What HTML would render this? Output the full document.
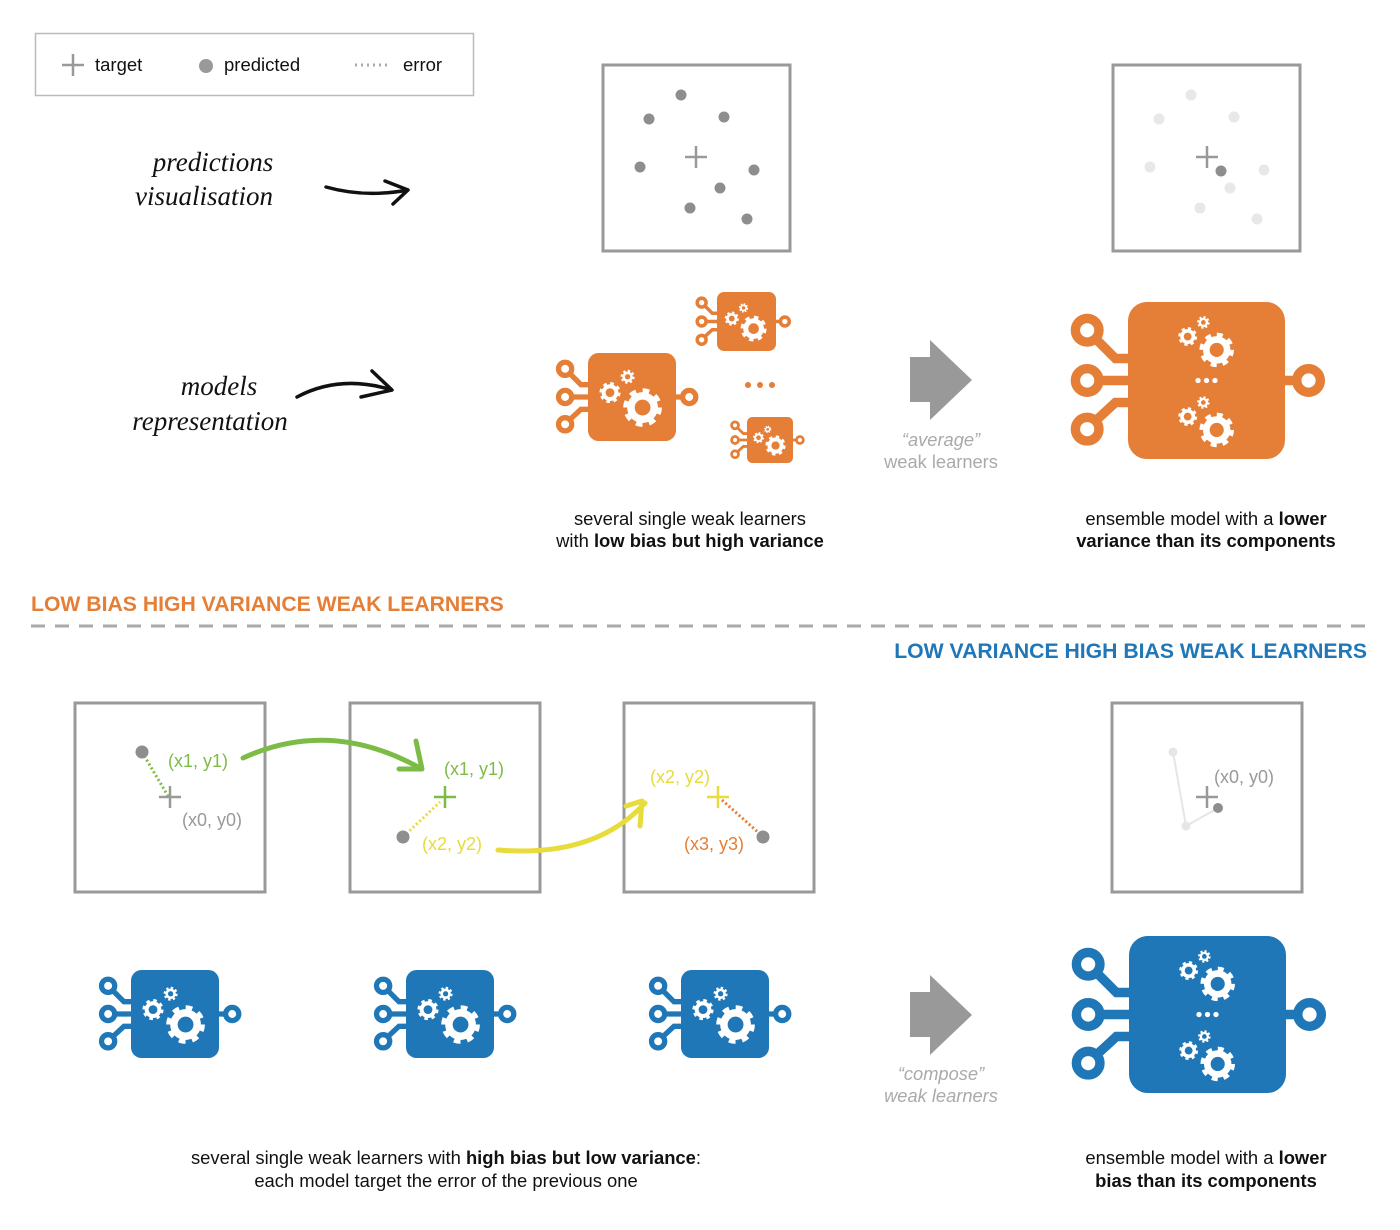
<!DOCTYPE html>
<html><head><meta charset="utf-8"><style>
html,body{margin:0;padding:0;background:#fff;}
svg{display:block;}
text{font-family:"Liberation Sans",sans-serif;}
.hw{font-family:"Liberation Serif",serif;font-style:italic;font-size:27px;fill:#111;}
.cap{font-size:18.4px;fill:#111;text-anchor:middle;}
.lbl{font-size:18px;}
</style></head><body>
<svg width="1400" height="1230" viewBox="0 0 1400 1230" xmlns="http://www.w3.org/2000/svg">
<defs>
  <g id="gears">
    <circle cx="25" cy="45" r="10" fill="none" stroke="#fff" stroke-width="4" stroke-dasharray="3.9 3.95"/>
    <circle cx="25" cy="45" r="9.5" fill="#fff"/>
    <circle cx="25" cy="45" r="5" fill="currentColor"/>
    <circle cx="45" cy="27" r="6.5" fill="none" stroke="#fff" stroke-width="3" stroke-dasharray="2.55 2.55"/>
    <circle cx="45" cy="27" r="6" fill="#fff"/>
    <circle cx="45" cy="27" r="3" fill="currentColor"/>
    <circle cx="62" cy="62" r="19" fill="none" stroke="#fff" stroke-width="6" stroke-dasharray="7.46 7.46"/>
    <circle cx="62" cy="62" r="17.5" fill="#fff"/>
    <circle cx="62" cy="62" r="9" fill="currentColor"/>
  </g>
  <g id="pins">
    <g fill="none" stroke="currentColor" stroke-width="6">
      <path d="M-21,23 L-8,36 L2,36"/>
      <path d="M-18,50 L2,50"/>
      <path d="M-21,76 L-8,64 L2,64"/>
      <path d="M98,50 L108,50"/>
      <circle cx="-26" cy="18" r="7.5" fill="#fff"/>
      <circle cx="-26" cy="50" r="7.5" fill="#fff"/>
      <circle cx="-26" cy="81" r="7.5" fill="#fff"/>
      <circle cx="115" cy="50" r="7.5" fill="#fff"/>
    </g>
    <rect x="0" y="0" width="100" height="100" rx="12" fill="currentColor"/>
  </g>
  <g id="chip">
    <use href="#pins"/>
    <use href="#gears"/>
  </g>
  <g id="ens">
    <use href="#pins"/>
    <use href="#gears" transform="translate(25.5,-0.5) scale(0.5)"/>
    <use href="#gears" transform="translate(25.5,50.5) scale(0.5)"/>
    <circle cx="44.6" cy="50" r="1.7" fill="#fff"/><circle cx="50" cy="50" r="1.7" fill="#fff"/><circle cx="55.4" cy="50" r="1.7" fill="#fff"/>
  </g>
</defs>

<!-- legend -->
<rect x="35.5" y="33.5" width="438" height="62" fill="#fff" stroke="#bbb" stroke-width="1.5"/>
<path d="M62,65 H84 M73,54 V76" stroke="#999" stroke-width="2.5"/>
<text x="95" y="71" font-size="18.5" fill="#111">target</text>
<circle cx="206" cy="66" r="7" fill="#999"/>
<text x="224" y="71" font-size="18.5" fill="#111">predicted</text>
<path d="M355,65 H390" stroke="#aaa" stroke-width="3" stroke-dasharray="2 4"/>
<text x="403" y="71" font-size="18.5" fill="#111">error</text>

<!-- handwriting -->
<text class="hw" x="213" y="171" text-anchor="middle">predictions</text>
<text class="hw" x="204" y="205" text-anchor="middle">visualisation</text>
<path d="M326,187 Q365,198 408,190 M385,181 L408,190 L393,204" fill="none" stroke="#111" stroke-width="3.5" stroke-linecap="round" stroke-linejoin="round"/>
<text class="hw" x="219" y="395" text-anchor="middle">models</text>
<text class="hw" x="210" y="430" text-anchor="middle">representation</text>
<path d="M297,397 Q340,374 392,390 M372,371 L392,390 L361,397" fill="none" stroke="#111" stroke-width="3.5" stroke-linecap="round" stroke-linejoin="round"/>

<!-- top plots -->
<rect x="603" y="65" width="187" height="186" fill="none" stroke="#999" stroke-width="3"/>
<path d="M685,157 H707 M696,146 V168" stroke="#999" stroke-width="2.5"/>
<g fill="#8e8e8e">
<circle cx="681" cy="95" r="5.5"/><circle cx="649" cy="119" r="5.5"/><circle cx="724" cy="117" r="5.5"/>
<circle cx="640" cy="167" r="5.5"/><circle cx="754" cy="170" r="5.5"/><circle cx="720" cy="188" r="5.5"/>
<circle cx="690" cy="208" r="5.5"/><circle cx="747" cy="219" r="5.5"/>
</g>
<rect x="1113" y="65" width="187" height="186" fill="none" stroke="#999" stroke-width="3"/>
<g fill="#e8e8e8">
<circle cx="1191" cy="95" r="5.5"/><circle cx="1159" cy="119" r="5.5"/><circle cx="1234" cy="117" r="5.5"/>
<circle cx="1150" cy="167" r="5.5"/><circle cx="1264" cy="170" r="5.5"/><circle cx="1230" cy="188" r="5.5"/>
<circle cx="1200" cy="208" r="5.5"/><circle cx="1257" cy="219" r="5.5"/>
</g>
<path d="M1196,157 H1218 M1207,146 V168" stroke="#999" stroke-width="2.5"/>
<circle cx="1221" cy="171" r="5.5" fill="#8e8e8e"/>

<!-- orange chips -->
<g color="#E57E36">
<use href="#chip" transform="translate(588,353) scale(0.88)"/>
<use href="#chip" transform="translate(717,292) scale(0.59)"/>
<use href="#chip" transform="translate(747,417) scale(0.46)"/>
<circle cx="748" cy="385" r="3" fill="#E57E36"/><circle cx="760" cy="385" r="3" fill="#E57E36"/><circle cx="772" cy="385" r="3" fill="#E57E36"/>
<use href="#ens" transform="translate(1128,302) scale(1.57)"/>
</g>

<polygon points="910,357 930,357 930,340 972,380 930,420 930,402 910,402" fill="#999"/>
<text x="941" y="446" font-size="18.3" fill="#aaa" text-anchor="middle" font-style="italic">“average”</text>
<text x="941" y="468" font-size="18.3" fill="#aaa" text-anchor="middle">weak learners</text>

<text class="cap" x="690" y="525">several single weak learners</text>
<text class="cap" x="690" y="547">with <tspan font-weight="bold">low bias but high variance</tspan></text>
<text class="cap" x="1206" y="525">ensemble model with a <tspan font-weight="bold">lower</tspan></text>
<text class="cap" x="1206" y="547" font-weight="bold">variance than its components</text>

<text x="31" y="611" font-size="21.2" font-weight="bold" fill="#E57E36">LOW BIAS HIGH VARIANCE WEAK LEARNERS</text>
<path d="M31,626 H1368" stroke="#aaa" stroke-width="3" stroke-dasharray="14 10"/>
<text x="1367" y="658" font-size="21.2" font-weight="bold" fill="#1F77B8" text-anchor="end">LOW VARIANCE HIGH BIAS WEAK LEARNERS</text>

<!-- bottom plots -->
<g fill="none" stroke="#999" stroke-width="3">
<rect x="75" y="703" width="190" height="189"/>
<rect x="350" y="703" width="190" height="189"/>
<rect x="624" y="703" width="190" height="189"/>
<rect x="1112" y="703" width="190" height="189"/>
</g>
<!-- box1 -->
<path d="M142,752 L168,796" stroke="#7DBB47" stroke-width="3" stroke-dasharray="2 2.5"/>
<path d="M159,797 H181 M170,786 V808" stroke="#999" stroke-width="2.5"/>
<circle cx="142" cy="752" r="6.5" fill="#8e8e8e"/>
<text class="lbl" x="168" y="767" fill="#7DBB47">(x1, y1)</text>
<text class="lbl" x="182" y="826" fill="#999">(x0, y0)</text>
<!-- box2 -->
<path d="M403,837 L440,802" stroke="#E8DB3C" stroke-width="3" stroke-dasharray="2 2.5"/>
<path d="M434,797 H456 M445,786 V808" stroke="#7DBB47" stroke-width="2.5"/>
<circle cx="403" cy="837" r="6.5" fill="#8e8e8e"/>
<text class="lbl" x="444" y="775" fill="#7DBB47">(x1, y1)</text>
<text class="lbl" x="422" y="850" fill="#E8DB3C">(x2, y2)</text>
<!-- box3 -->
<path d="M722,800 L760,834" stroke="#E57E36" stroke-width="3" stroke-dasharray="2 2.5"/>
<path d="M707,797 H729 M718,786 V808" stroke="#E8DB3C" stroke-width="2.5"/>
<circle cx="763" cy="837" r="6.5" fill="#8e8e8e"/>
<text class="lbl" x="650" y="783" fill="#E8DB3C">(x2, y2)</text>
<text class="lbl" x="684" y="850" fill="#E57E36">(x3, y3)</text>
<!-- box4 -->
<path d="M1173,752 L1186,826 L1218,808" fill="none" stroke="#e6e6e6" stroke-width="2"/>
<circle cx="1173" cy="752" r="4.5" fill="#e6e6e6"/><circle cx="1186" cy="826" r="4.5" fill="#e6e6e6"/>
<path d="M1196,797 H1218 M1207,786 V808" stroke="#999" stroke-width="2.5"/>
<circle cx="1218" cy="808" r="5" fill="#8e8e8e"/>
<text class="lbl" x="1214" y="783" fill="#999">(x0, y0)</text>

<!-- curved arrows -->
<path d="M243,758 Q330,718 420,768" fill="none" stroke="#7DBB47" stroke-width="5" stroke-linecap="round"/>
<path d="M416,741 L422,769 L399,769" fill="none" stroke="#7DBB47" stroke-width="5" stroke-linecap="round" stroke-linejoin="round"/>
<path d="M498,850 Q595,858 645,803" fill="none" stroke="#E8DB3C" stroke-width="5" stroke-linecap="round"/>
<path d="M626,806 L642,801 L640,826" fill="none" stroke="#E8DB3C" stroke-width="5" stroke-linecap="round" stroke-linejoin="round"/>

<!-- blue chips -->
<g color="#1F77B8">
<use href="#chip" transform="translate(131,970) scale(0.88)"/>
<use href="#chip" transform="translate(406,970) scale(0.88)"/>
<use href="#chip" transform="translate(681,970) scale(0.88)"/>
<use href="#ens" transform="translate(1129,936) scale(1.57)"/>
</g>

<polygon points="910,992 930,992 930,975 972,1015 930,1055 930,1037 910,1037" fill="#999"/>
<text x="941" y="1080" font-size="18.3" fill="#aaa" text-anchor="middle" font-style="italic">“compose”</text>
<text x="941" y="1102" font-size="18.3" fill="#aaa" text-anchor="middle" font-style="italic">weak learners</text>

<text class="cap" x="446" y="1164">several single weak learners with <tspan font-weight="bold">high bias but low variance</tspan>:</text>
<text class="cap" x="446" y="1187">each model target the error of the previous one</text>
<text class="cap" x="1206" y="1164">ensemble model with a <tspan font-weight="bold">lower</tspan></text>
<text class="cap" x="1206" y="1187" font-weight="bold">bias than its components</text>
</svg>
</body></html>
